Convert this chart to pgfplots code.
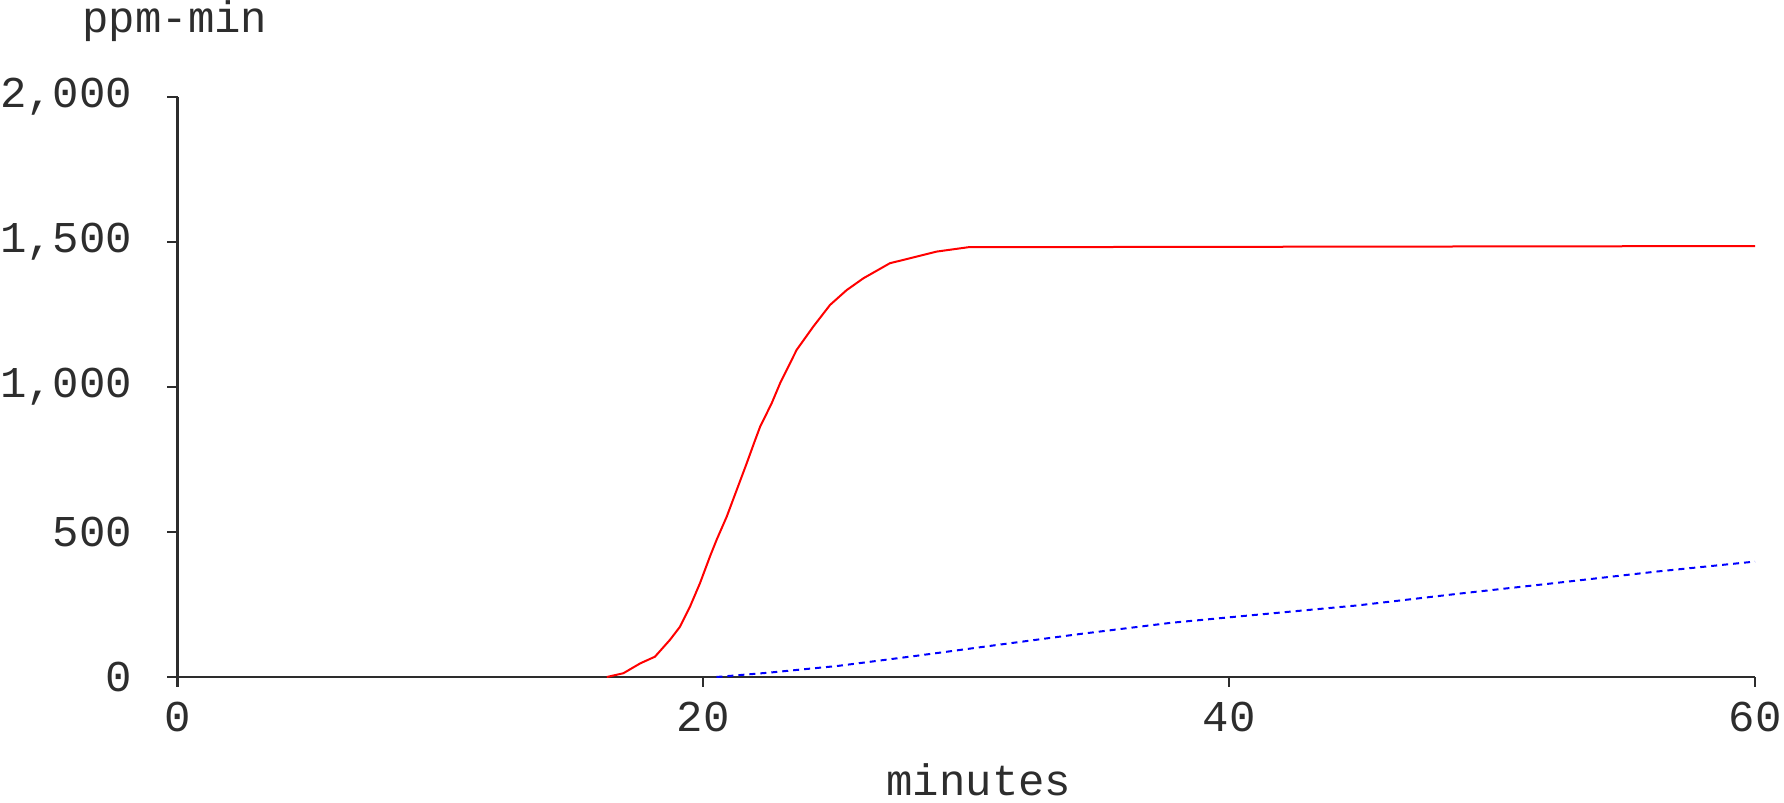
\documentclass[border=0pt]{standalone}
\usepackage{fontspec}
\setmainfont{Liberation Mono}
\usepackage{pgfplots}
\pgfplotsset{compat=1.18}
\definecolor{axgray}{RGB}{45,45,45}
\definecolor{pred}{RGB}{255,0,0}
\definecolor{pblue}{RGB}{0,0,255}
\begin{document}
\begin{tikzpicture}[x=1pt,y=1pt]
\path[use as bounding box] (0,0) rectangle (892,401.5);
\begin{axis}[
 at={(88.75pt,63pt)}, anchor=south west,
 width=788.75pt, height=290pt, scale only axis,
 xmin=0,xmax=60,ymin=0,ymax=2000,
 axis x line*=bottom, axis y line*=left,
 axis line style={axgray, line width=1.1pt},
 xtick={0,20,40,60}, ytick={0,500,1000,1500,2000},
 tick align=outside, major tick length=5pt,
 tick style={axgray, line width=1.1pt},
 minor tick num=0,
 /pgf/number format/assume math mode=true,
 /pgf/number format/1000 sep={,},
 ticklabel style={font=\fontsize{22}{22}\selectfont, text=axgray},
 xticklabel style={anchor=north, inner sep=0pt, yshift=-7.5pt},
 yticklabel style={anchor=east, inner sep=0pt, xshift=-17.5pt},
 clip=false,
]
\addplot[pred, line width=1pt] coordinates {
(16.33,0)(16.96,13)(17.6,47)(18.16,70)(18.73,128)(19.11,173)(19.49,242)(19.87,323)(20.25,415)(20.5,472)(20.89,553)(21.27,645)(21.65,737)(21.97,817)(22.16,863)(22.6,944)(22.92,1013)(23.55,1128)(24.18,1208)(24.82,1283)(25.45,1334)(26.09,1375)(27.1,1427)(27.6,1438)(28.88,1467)(30.08,1482)(60,1486)
};
\addplot[pblue, line width=1pt, dash pattern=on 3pt off 2.5pt] coordinates {
(20.5,0)(22.5,15)(25.1,38)(28.1,73)(31.3,112)(34.3,148)(37.8,187)(40.5,210)(44.9,247)(48.8,288)(52.4,324)(56.3,364)(60,398)
};
\end{axis}
\node[font=\fontsize{22}{22}\selectfont, text=axgray, anchor=base, inner sep=0pt] at (87.5,385) {ppm-min};
\node[font=\fontsize{22}{22}\selectfont, text=axgray, anchor=base, inner sep=0pt] at (489.5,3.5) {minutes};
\end{tikzpicture}
\end{document}
